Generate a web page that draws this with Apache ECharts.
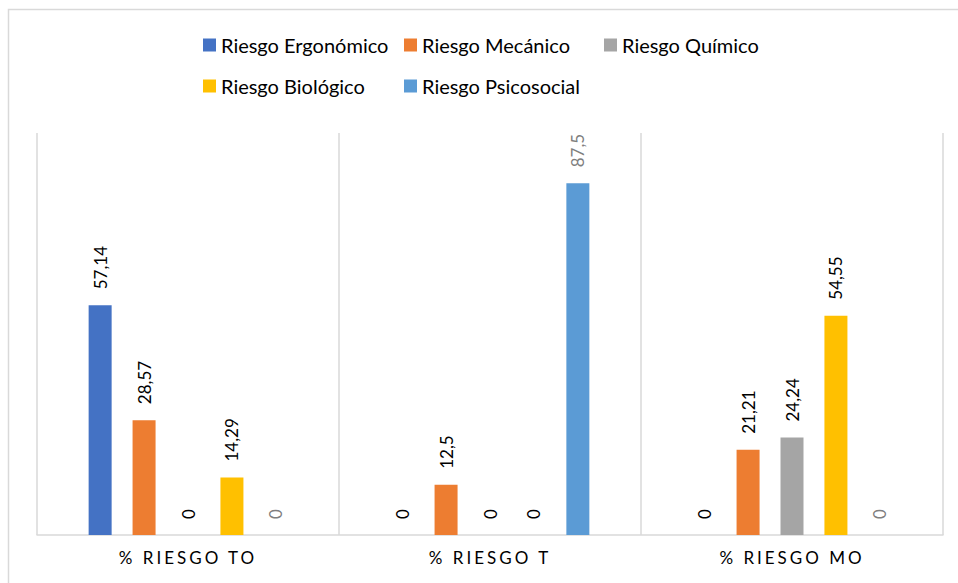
<!DOCTYPE html>
<html>
<head>
<meta charset="utf-8">
<script src="https://cdn.jsdelivr.net/npm/echarts@6/dist/echarts.min.js"></script>
<style>
  html, body { margin: 0; padding: 0; background: #fff; }
  #chart { width: 958px; height: 583px; }
</style>
</head>
<body>
<div id="chart"></div>
<script>
// Categories on the x axis
const categories = ['% RIESGO TO', '% RIESGO T', '% RIESGO MO'];

// Percent values per risk type, one entry per category
const ergonomico  = [57.14, 0, 0];
const mecanico    = [28.57, 12.5, 21.21];
const quimico     = [0, 0, 24.24];
const biologico   = [14.29, 0, 54.55];
const psicosocial = [0, 87.5, 0];

const seriesNames = ['Riesgo Ergonómico', 'Riesgo Mecánico', 'Riesgo Químico', 'Riesgo Biológico', 'Riesgo Psicosocial'];
const seriesData = [ergonomico, mecanico, quimico, biologico, psicosocial];
const seriesColors = ['#4472C4', '#ED7D31', '#A5A5A5', '#FFC000', '#5B9BD5'];
const labelColors = ['#000000', '#000000', '#000000', '#000000', '#7f7f7f'];

// Legend laid out as a grid: three columns, two rows
const legendCols = [198, 399, 599];
const legendRows = [30, 71];

const FONT = 'Lato';
const chart = echarts.init(document.getElementById('chart'), null, { renderer: 'svg' });

const series = seriesNames.map((name, i) => ({
  name: name,
  type: 'bar',
  data: seriesData[i],
  barWidth: 23,
  barGap: '91%',
  itemStyle: { color: seriesColors[i] },
  label: {
    show: true,
    position: 'top',
    distance: 16,
    rotate: 90,
    align: 'left',
    verticalAlign: 'middle',
    color: labelColors[i],
    fontFamily: FONT,
    fontSize: 17,
    formatter: p => String(p.value).replace('.', ',')
  }
}));

const legends = seriesNames.map((name, i) => ({
  left: legendCols[i % 3],
  top: legendRows[Math.floor(i / 3)],
  orient: 'horizontal',
  icon: 'rect',
  itemWidth: 13,
  itemHeight: 13,
  itemGap: 10,
  data: [name],
  textStyle: { fontFamily: FONT, fontSize: 20, color: '#000' }
}));

chart.setOption({
  animation: false,
  backgroundColor: '#ffffff',
  graphic: [{
    type: 'rect',
    shape: { x: 8.5, y: 9.5, width: 1000, height: 1000 },
    style: { fill: 'none', stroke: '#d9d9d9', lineWidth: 1.5 },
    silent: true
  }],
  legend: legends,
  grid: { left: 37, right: 15, top: 133, bottom: 48, containLabel: false },
  xAxis: {
    type: 'category',
    data: categories,
    axisLine: { show: true, lineStyle: { color: '#d9d9d9', width: 1.5 } },
    axisTick: { show: false },
    splitLine: { show: true, interval: 0, lineStyle: { color: '#d9d9d9', width: 1.5 } },
    axisLabel: { margin: 14, fontFamily: FONT, fontSize: 17, color: '#000' }
  },
  yAxis: {
    type: 'value',
    min: 0,
    max: 100,
    show: false
  },
  series: series
});

// Widen the tracking of the category labels
function spaceAxisLabels() {
  document.querySelectorAll('#chart svg text').forEach(t => {
    if (categories.includes(t.textContent)) {
      t.setAttribute('letter-spacing', '3px');
    }
  });
}
chart.on('finished', spaceAxisLabels);
spaceAxisLabels();
</script>
</body>
</html>
